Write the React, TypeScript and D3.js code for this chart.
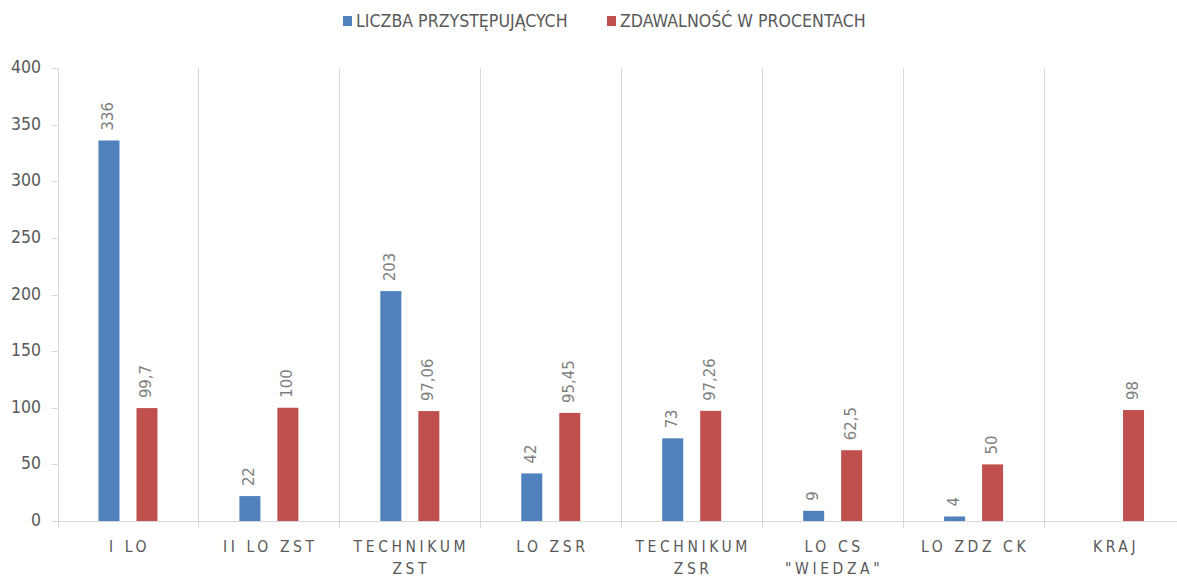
import React from "react";
import * as d3 from "d3";

const categories: string[][] = [
  ["I LO"],
  ["II LO ZST"],
  ["TECHNIKUM", "ZST"],
  ["LO ZSR"],
  ["TECHNIKUM", "ZSR"],
  ["LO CS", "\"WIEDZA\""],
  ["LO ZDZ CK"],
  ["KRAJ"],
];
const liczba: (number | null)[] = [336, 22, 203, 42, 73, 9, 4, null];
const zdawalnosc: (number | null)[] = [99.7, 100, 97.06, 95.45, 97.26, 62.5, 50, 98];
const yTicks = [0, 50, 100, 150, 200, 250, 300, 350, 400];
const seriesNames = ["LICZBA PRZYSTĘPUJĄCYCH", "ZDAWALNOŚĆ W PROCENTACH"];
const colors = ["#4f81bd", "#c0504d"];

const W = 1177;
const H = 576;
const left = 57.5;
const right = 1185;
const top = 68;
const bottom = 521;
const font = "'Liberation Sans Narrow', 'DejaVu Sans Condensed', 'Liberation Sans', sans-serif";
const grey = "#595959";

const fmt = (v: number) => String(v).replace(".", ",");

export default function App() {
  const x = d3
    .scaleBand<number>()
    .domain(categories.map((_, i) => i))
    .range([left, right]);
  const y = d3.scaleLinear().domain([0, 400]).range([bottom, top]);
  const bw = x.bandwidth();
  const barW = 21;
  const offsets = [-19, 19];
  const series = [liczba, zdawalnosc];

  return (
    <svg
      width={W}
      height={H}
      style={{ position: "absolute", left: 0, top: 0, background: "#fff" }}
      fontFamily={font}
    >
      {/* vertical gridlines */}
      {d3.range(categories.length + 1).map((i) => {
        const gx = Math.round(left + i * bw) + 0.5;
        return (
          <line key={"g" + i} x1={gx} x2={gx} y1={top} y2={bottom + 7} stroke="#d9d9d9" strokeWidth={1} />
        );
      })}
      {/* y ticks */}
      {yTicks.map((t) => (
        <g key={"t" + t}>
          <line x1={left - 6} x2={left} y1={Math.round(y(t)) + 0.5} y2={Math.round(y(t)) + 0.5} stroke="#d9d9d9" />
          <text x={41} y={y(t)} textAnchor="end" dominantBaseline="middle" fontSize={17.5} fill={grey}>
            {t}
          </text>
        </g>
      ))}
      {/* x axis line */}
      <line x1={left} x2={right} y1={bottom + 0.5} y2={bottom + 0.5} stroke="#d9d9d9" />
      {/* bars */}
      {series.map((s, si) =>
        s.map((v, i) => {
          if (v === null) return null;
          const cx = (x(i) as number) + bw / 2 + offsets[si];
          const yt = y(v);
          return (
            <g key={`b${si}-${i}`}>
              <rect x={cx - barW / 2} y={yt} width={barW} height={bottom - yt} fill={colors[si]} />
              <text
                transform={`translate(${cx},${yt - 10}) rotate(-90)`}
                textAnchor="start"
                dominantBaseline="middle"
                fontSize={16.5}
                fill="#7f7f7f"
              >
                {fmt(v)}
              </text>
            </g>
          );
        })
      )}
      {/* x labels */}
      {categories.map((lines, i) =>
        lines.map((ln, li) => (
          <text
            key={`x${i}-${li}`}
            x={(x(i) as number) + bw / 2 + 1.5}
            y={547 + li * 22}
            textAnchor="middle"
            dominantBaseline="middle"
            fontSize={15.5}
            letterSpacing={3.6}
            fill={grey}
          >
            {ln}
          </text>
        ))
      )}
      {/* legend */}
      {[343, 607].map((lx, i) => (
        <g key={"l" + i}>
          <rect x={lx} y={16} width={9} height={10} fill={colors[i]} />
          <text x={lx + 13} y={21.5} dominantBaseline="middle" fontSize={17.6} fill={grey}>
            {seriesNames[i]}
          </text>
        </g>
      ))}
    </svg>
  );
}
